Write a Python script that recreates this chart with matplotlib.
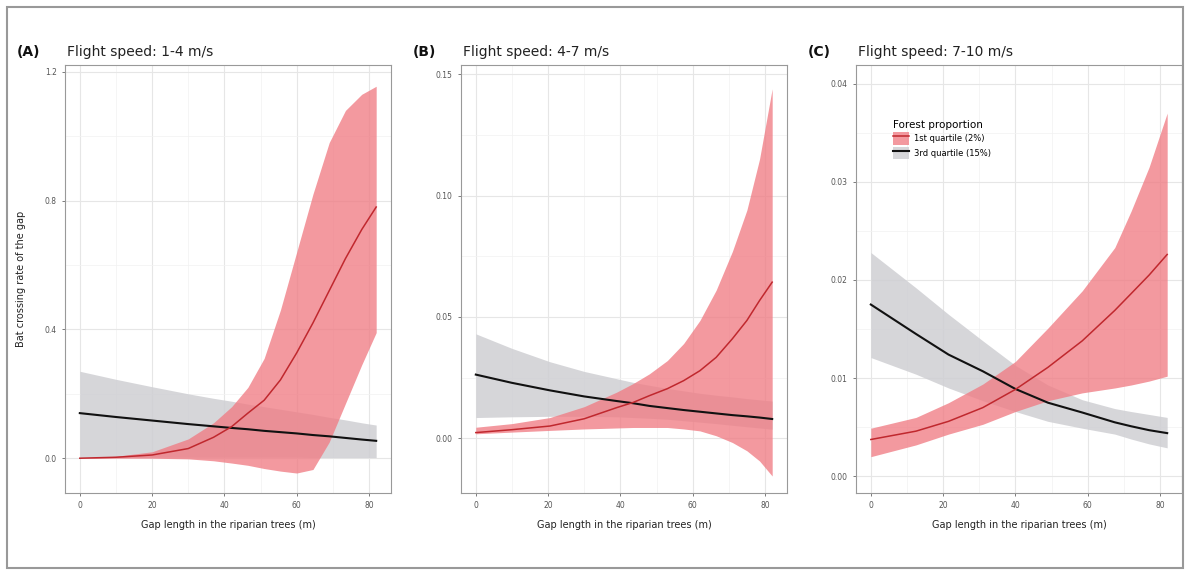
import numpy as np
import matplotlib
matplotlib.use("Agg")
import matplotlib.pyplot as plt
from matplotlib.patches import Patch, Rectangle
from matplotlib.lines import Line2D

# Panel A: flight speed 1-4 m/s
xA = [0, 10, 20, 30, 37, 42, 46.5, 51, 55.5, 60, 64.5, 69, 73.5, 78, 82]
redA_mean = [0.0, 0.003, 0.01, 0.03, 0.065, 0.098, 0.14, 0.18, 0.243, 0.327, 0.42, 0.52, 0.62, 0.71, 0.78]
redA_hi = [0.0, 0.006, 0.02, 0.06, 0.11, 0.16, 0.22, 0.31, 0.46, 0.64, 0.82, 0.98, 1.08, 1.13, 1.155]
redA_lo = [0.0, 0.0, 0.0, -0.002, -0.008, -0.015, -0.022, -0.032, -0.04, -0.046, -0.035, 0.05, 0.17, 0.29, 0.39]
greyA_mean = [0.14, 0.128, 0.117, 0.106, 0.099, 0.094, 0.09, 0.085, 0.081, 0.077, 0.072, 0.068, 0.063, 0.058, 0.054]
greyA_hi = [0.27, 0.245, 0.222, 0.20, 0.186, 0.177, 0.168, 0.16, 0.152, 0.144, 0.136, 0.127, 0.119, 0.11, 0.103]
greyA_lo = [0.002, 0.002, 0.003, 0.003, 0.003, 0.003, 0.003, 0.003, 0.003, 0.003, 0.002, 0.002, 0.002, 0.002, 0.002]

# Panel B: flight speed 4-7 m/s
xB = [0, 10, 20.5, 30, 39, 43.5, 48, 53, 57.5, 62, 66.5, 71, 75, 78.5, 82]
redB_mean = [0.0023, 0.0035, 0.005, 0.008, 0.0126, 0.0147, 0.0175, 0.0204, 0.0237, 0.0278, 0.0333, 0.041, 0.0485, 0.0567, 0.0643]
redB_hi = [0.0045, 0.006, 0.0085, 0.013, 0.019, 0.0225, 0.0265, 0.032, 0.039, 0.0485, 0.061, 0.077, 0.094, 0.115, 0.144]
redB_lo = [0.0018, 0.0025, 0.0032, 0.0038, 0.0042, 0.0044, 0.0044, 0.0044, 0.0038, 0.003, 0.001, -0.0018, -0.0052, -0.0094, -0.0156]
greyB_mean = [0.0262, 0.0228, 0.0197, 0.0172, 0.0153, 0.0144, 0.0133, 0.0124, 0.0116, 0.0109, 0.0102, 0.0095, 0.009, 0.0085, 0.0079]
greyB_hi = [0.043, 0.037, 0.0315, 0.0275, 0.0245, 0.023, 0.0218, 0.0205, 0.0195, 0.0185, 0.0177, 0.017, 0.0163, 0.0158, 0.0153]
greyB_lo = [0.0085, 0.0088, 0.009, 0.009, 0.0088, 0.0085, 0.0082, 0.0078, 0.0072, 0.0066, 0.006, 0.0053, 0.0047, 0.0042, 0.0037]

# Panel C: flight speed 7-10 m/s
xC = [0, 12.5, 21.5, 31, 40, 49, 58.5, 67.5, 72, 77, 82]
redC_mean = [0.00375, 0.0046, 0.0056, 0.007, 0.00885, 0.0111, 0.0138, 0.0169, 0.0186, 0.0205, 0.0226]
redC_hi = [0.0049, 0.006, 0.0075, 0.0094, 0.0117, 0.0151, 0.0189, 0.0233, 0.027, 0.0315, 0.037]
redC_lo = [0.002, 0.0032, 0.0043, 0.0053, 0.0066, 0.0077, 0.0085, 0.009, 0.0093, 0.0097, 0.0102]
greyC_mean = [0.0175, 0.0145, 0.0124, 0.0107, 0.0089, 0.0075, 0.0065, 0.0055, 0.0051, 0.0047, 0.0044]
greyC_hi = [0.0228, 0.0192, 0.0165, 0.0138, 0.0113, 0.0093, 0.0078, 0.0069, 0.0066, 0.0063, 0.006]
greyC_lo = [0.0121, 0.0104, 0.009, 0.0077, 0.0066, 0.0056, 0.0049, 0.0043, 0.0038, 0.0033, 0.0029]

panels = [
    ("(A)", "Flight speed: 1-4 m/s", xA, redA_mean, redA_lo, redA_hi, greyA_mean, greyA_lo, greyA_hi,
     (-0.108, 1.221), [0.0, 0.4, 0.8, 1.2], ["0.0", "0.4", "0.8", "1.2"]),
    ("(B)", "Flight speed: 4-7 m/s", xB, redB_mean, redB_lo, redB_hi, greyB_mean, greyB_lo, greyB_hi,
     (-0.0226, 0.1538), [0.0, 0.05, 0.10, 0.15], ["0.00", "0.05", "0.10", "0.15"]),
    ("(C)", "Flight speed: 7-10 m/s", xC, redC_mean, redC_lo, redC_hi, greyC_mean, greyC_lo, greyC_hi,
     (-0.0017, 0.0419), [0.0, 0.01, 0.02, 0.03, 0.04], ["0.00", "0.01", "0.02", "0.03", "0.04"]),
]

W, H = 1187, 571
fig = plt.figure(figsize=(W / 100, H / 100), dpi=100)

red_fill = '#F07C84'
red_line = '#C0282E'
grey_fill = '#CFCFD3'

lefts = [65, 461, 856]
ax_w = 326
top, bottom = 65, 493

for i, (tag, title, x, rm, rl, rh, gm, gl, gh, ylim, yt, ytl) in enumerate(panels):
    ax = fig.add_axes([lefts[i] / W, 1 - bottom / H, ax_w / W, (bottom - top) / H])
    ax.fill_between(x, gl, gh, color=grey_fill, alpha=0.85, lw=0, zorder=2)
    ax.fill_between(x, rl, rh, color=red_fill, alpha=0.78, lw=0, zorder=3)
    ax.plot(x, gm, color='#111111', lw=1.5, zorder=4)
    ax.plot(x, rm, color=red_line, lw=1.1, zorder=5)

    ax.set_xlim(-4.1, 86.1)
    ax.set_ylim(*ylim)
    ax.set_xticks([0, 20, 40, 60, 80])
    ax.set_xticks([10, 30, 50, 70], minor=True)
    ax.set_yticks(yt)
    ax.set_yticklabels(ytl)
    ax.set_yticks([(a + b) / 2 for a, b in zip(yt[:-1], yt[1:])], minor=True)
    ax.grid(which='major', color='#E6E6E6', lw=0.8, zorder=0)
    ax.grid(which='minor', color='#F2F2F2', lw=0.5, zorder=0)
    ax.set_axisbelow(True)
    ax.tick_params(which='major', labelsize=5.5, colors='#666666', length=2.5, width=0.6, labelcolor='#555555')
    ax.tick_params(which='minor', length=0)
    for s in ax.spines.values():
        s.set_color('#999999')
        s.set_linewidth(0.8)
    ax.set_xlabel("Gap length in the riparian trees (m)", fontsize=7, color='#222222', labelpad=7)
    if i == 0:
        ax.set_ylabel("Bat crossing rate of the gap", fontsize=7, color='#222222', labelpad=13)

    fig.text((lefts[i] - 48) / W, 1 - 52 / H, tag, fontsize=10, color='#111111', va='center', ha='left',
             fontweight='semibold')
    fig.text((lefts[i] + 2) / W, 1 - 52 / H, title, fontsize=10, color='#222222', va='center', ha='left')

    if i == 2:
        handles = [(Patch(facecolor=red_fill, alpha=0.78, lw=0), Line2D([], [], color=red_line, lw=1.1)),
                   (Patch(facecolor=grey_fill, alpha=0.85, lw=0), Line2D([], [], color='#111111', lw=1.5))]
        leg = ax.legend(handles, ["1st quartile (2%)", "3rd quartile (15%)"], title="Forest proportion",
                        loc='upper left', bbox_to_anchor=(0.09, 0.89), frameon=False, fontsize=6,
                        title_fontsize=7.5, handlelength=1.9, handleheight=2.0, labelspacing=0.25,
                        handletextpad=0.6)
        leg._legend_box.align = 'left'

# outer frame
fig.patches.append(Rectangle((7 / W, 1 - 568 / H), (1183 - 7) / W, (568 - 7) / H, transform=fig.transFigure,
                             fill=False, edgecolor='#999999', lw=1.5))

fig.savefig("out.png", dpi=100)
